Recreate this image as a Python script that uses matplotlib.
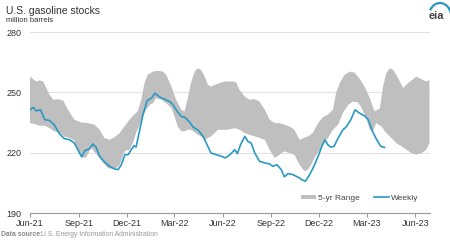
import numpy as np
import pandas as pd
import matplotlib
matplotlib.use("Agg")
import matplotlib.pyplot as plt
from matplotlib.patches import Arc

plt.rcParams['font.family'] = ['Liberation Sans', 'DejaVu Sans']

# weekly gasoline stocks, million barrels
weekly_dates = ["2021-06-01", "2021-06-07", "2021-06-13", "2021-06-21", "2021-06-29", "2021-07-08",
                "2021-07-17", "2021-07-27", "2021-08-05", "2021-08-15", "2021-08-24", "2021-09-03",
                "2021-09-07", "2021-09-13", "2021-09-22", "2021-09-28", "2021-10-04", "2021-10-11",
                "2021-10-20", "2021-10-30", "2021-11-08", "2021-11-15", "2021-11-21", "2021-11-28",
                "2021-12-04", "2021-12-10", "2021-12-15", "2021-12-19", "2021-12-26", "2022-01-01",
                "2022-01-09", "2022-01-17", "2022-01-24", "2022-02-02", "2022-02-11", "2022-02-21",
                "2022-02-27", "2022-03-07", "2022-03-15", "2022-03-22", "2022-03-31", "2022-04-06",
                "2022-04-16", "2022-04-25", "2022-05-01", "2022-05-10", "2022-05-20", "2022-05-30",
                "2022-06-06", "2022-06-11", "2022-06-18", "2022-06-24", "2022-06-29", "2022-07-05",
                "2022-07-13", "2022-07-19", "2022-07-25", "2022-08-01", "2022-08-10", "2022-08-20",
                "2022-08-29", "2022-09-04", "2022-09-12", "2022-09-20", "2022-09-26", "2022-10-03",
                "2022-10-12", "2022-10-22", "2022-10-31", "2022-11-05", "2022-11-13", "2022-11-21",
                "2022-11-29", "2022-12-06", "2022-12-12", "2022-12-17", "2022-12-23", "2022-12-29",
                "2023-01-06", "2023-01-15", "2023-01-21", "2023-01-30", "2023-02-07", "2023-02-15",
                "2023-02-25", "2023-03-04", "2023-03-12", "2023-03-20", "2023-03-28", "2023-04-04"]
weekly_vals = [241.3, 242.5, 240.8, 241.3, 236.4, 236.0,
               233.9, 229.3, 227.0, 226.4, 224.8, 219.8,
               217.9, 221.0, 222.0, 224.3, 222.8, 218.2,
               215.4, 213.2, 211.9, 211.6, 214.0, 219.0,
               219.0, 221.5, 223.5, 222.8, 231.4, 238.8,
               245.9, 247.1, 249.6, 247.6, 246.6, 245.4,
               243.8, 240.5, 238.0, 237.5, 235.0, 232.7,
               231.1, 228.1, 224.8, 219.8, 219.0, 218.2,
               217.4, 218.2, 219.8, 221.5, 219.5, 224.0,
               228.1, 225.6, 224.8, 219.8, 215.7, 214.9,
               214.4, 213.2, 214.0, 211.6, 208.0, 209.6,
               209.1, 207.8, 206.3, 205.8, 209.1, 213.2,
               218.2, 223.1, 226.4, 224.0, 222.8, 223.1,
               227.3, 231.4, 232.7, 236.4, 241.3, 239.7,
               238.3, 236.4, 230.6, 226.4, 223.1, 222.6]

# 5-year range, upper edge
upper_dates = ["2021-06-01", "2021-06-07", "2021-06-13", "2021-06-19", "2021-06-26", "2021-07-02",
               "2021-07-08", "2021-07-15", "2021-07-24", "2021-08-03", "2021-08-12", "2021-08-24",
               "2021-09-06", "2021-09-19", "2021-10-01", "2021-10-11", "2021-10-20", "2021-10-30",
               "2021-11-08", "2021-11-18", "2021-11-27", "2021-12-04", "2021-12-13", "2021-12-22",
               "2021-12-29", "2022-01-04", "2022-01-10", "2022-01-20", "2022-01-29", "2022-02-08",
               "2022-02-14", "2022-02-24", "2022-03-05", "2022-03-15", "2022-03-21", "2022-03-27",
               "2022-04-02", "2022-04-09", "2022-04-15", "2022-04-21", "2022-04-28", "2022-05-04",
               "2022-05-10", "2022-05-17", "2022-05-26", "2022-06-05", "2022-06-11", "2022-06-21",
               "2022-06-27", "2022-07-03", "2022-07-13", "2022-07-22", "2022-08-01", "2022-08-10",
               "2022-08-20", "2022-08-29", "2022-09-08", "2022-09-17", "2022-09-26", "2022-10-06",
               "2022-10-15", "2022-10-25", "2022-11-02", "2022-11-10", "2022-11-19", "2022-11-29",
               "2022-12-08", "2022-12-17", "2022-12-27", "2023-01-02", "2023-01-09", "2023-01-18",
               "2023-01-28", "2023-02-06", "2023-02-15", "2023-02-25", "2023-03-07", "2023-03-16",
               "2023-03-26", "2023-04-01", "2023-04-07", "2023-04-14", "2023-04-20", "2023-04-26",
               "2023-05-03", "2023-05-09", "2023-05-15", "2023-05-22", "2023-05-28", "2023-06-03",
               "2023-06-13", "2023-06-22", "2023-06-28"]
upper_vals = [257.8, 256.5, 255.4, 255.9, 255.4, 252.1,
              248.8, 246.3, 246.6, 245.9, 241.3, 236.4,
              235.0, 234.7, 233.9, 231.4, 227.3, 226.4,
              227.6, 229.8, 233.0, 235.5, 238.3, 240.5,
              246.3, 254.6, 258.7, 260.3, 260.7, 260.3,
              258.7, 252.9, 246.3, 241.3, 240.5, 247.1,
              254.6, 260.3, 262.0, 261.2, 257.8, 253.7,
              252.9, 253.7, 254.6, 255.4, 255.4, 255.4,
              254.9, 251.2, 247.9, 246.3, 246.6, 245.4,
              241.3, 236.4, 234.7, 234.7, 233.9, 233.0,
              231.4, 226.4, 227.3, 228.1, 229.8, 234.7,
              237.7, 238.8, 241.3, 249.6, 254.6, 258.7,
              260.3, 259.8, 257.0, 252.9, 247.1, 240.5,
              242.0, 252.9, 259.5, 262.0, 261.2, 258.7,
              255.4, 252.1, 253.7, 255.4, 256.5, 257.8,
              256.5, 255.4, 256.2]

# 5-year range, lower edge
lower_dates = ["2021-06-01", "2021-06-10", "2021-06-19", "2021-06-29", "2021-07-08", "2021-07-17",
               "2021-07-27", "2021-08-05", "2021-08-15", "2021-08-24", "2021-08-31", "2021-09-06",
               "2021-09-15", "2021-09-25", "2021-10-07", "2021-10-16", "2021-10-26", "2021-11-01",
               "2021-11-11", "2021-11-18", "2021-11-28", "2021-12-07", "2021-12-14", "2021-12-19",
               "2021-12-26", "2022-01-01", "2022-01-07", "2022-01-14", "2022-01-20", "2022-01-26",
               "2022-02-05", "2022-02-14", "2022-02-24", "2022-03-02", "2022-03-08", "2022-03-15",
               "2022-03-21", "2022-03-27", "2022-04-02", "2022-04-09", "2022-04-15", "2022-04-21",
               "2022-04-28", "2022-05-04", "2022-05-10", "2022-05-17", "2022-05-23", "2022-06-02",
               "2022-06-11", "2022-06-24", "2022-07-03", "2022-07-13", "2022-07-22", "2022-08-01",
               "2022-08-10", "2022-08-20", "2022-08-29", "2022-09-08", "2022-09-17", "2022-09-26",
               "2022-10-06", "2022-10-15", "2022-10-25", "2022-11-03", "2022-11-10", "2022-11-16",
               "2022-11-22", "2022-12-02", "2022-12-11", "2022-12-17", "2022-12-27", "2023-01-06",
               "2023-01-15", "2023-01-25", "2023-02-03", "2023-02-12", "2023-02-18", "2023-02-28",
               "2023-03-07", "2023-03-13", "2023-03-19", "2023-03-29", "2023-04-07", "2023-04-17",
               "2023-04-26", "2023-05-06", "2023-05-15", "2023-05-25", "2023-06-03", "2023-06-13",
               "2023-06-22", "2023-06-28"]
lower_vals = [234.7, 234.2, 233.4, 233.4, 232.2, 230.6,
              229.8, 228.1, 227.3, 226.0, 220.7, 217.9,
              217.4, 222.5, 218.5, 215.5, 212.5, 212.0,
              212.3, 214.0, 221.0, 221.5, 225.5, 229.8,
              233.9, 238.0, 241.3, 243.8, 244.6, 247.1,
              246.3, 244.6, 242.2, 238.0, 233.0, 230.6,
              230.6, 231.4, 231.4, 230.1, 228.9, 228.1,
              226.4, 227.3, 228.1, 229.8, 231.4, 231.4,
              231.4, 232.2, 231.4, 229.8, 228.9, 228.1,
              227.3, 226.4, 221.5, 217.4, 219.0, 220.7,
              219.8, 219.0, 214.0, 210.8, 211.6, 214.0,
              217.4, 221.5, 225.6, 227.0, 231.4, 233.9,
              239.7, 243.8, 245.4, 245.0, 243.0, 237.2,
              231.4, 230.6, 234.7, 233.0, 229.8, 227.3,
              224.8, 223.1, 221.5, 219.8, 219.0, 219.8,
              221.5, 224.8]

tick_dates = ["2021-06-01", "2021-09-01", "2021-12-01", "2022-03-01", "2022-06-01",
              "2022-09-01", "2022-12-01", "2023-03-01", "2023-06-01"]
tick_labels = ["Jun-21", "Sep-21", "Dec-21", "Mar-22", "Jun-22",
               "Sep-22", "Dec-22", "Mar-23", "Jun-23"]
y_ticks = [190, 220, 250, 280]

wd = pd.to_datetime(weekly_dates)
ud = pd.to_datetime(upper_dates)
ld = pd.to_datetime(lower_dates)

fig = plt.figure(figsize=(4.5, 2.4), dpi=100)
ax = fig.add_axes([30 / 450, 1 - 213 / 240, 400 / 450, 181 / 240])

band_x = np.concatenate([ud.values, ld.values[::-1]])
band_y = np.concatenate([upper_vals, lower_vals[::-1]])
ax.fill(band_x, band_y, color='#bfbfbf', lw=0, zorder=2, label='5-yr Range')
ax.plot(wd, weekly_vals, color='#2a98c4', lw=1.2, zorder=3, label='Weekly')

ax.set_ylim(190, 280)
ax.set_xlim(pd.Timestamp("2021-06-01"), pd.Timestamp("2023-06-29"))
ax.set_yticks(y_ticks)
ax.set_xticks(pd.to_datetime(tick_dates))
ax.set_xticklabels(tick_labels)
ax.grid(axis='y', color='#e2e2e2', lw=0.8, zorder=0)
for s in ['top', 'right', 'left']:
    ax.spines[s].set_visible(False)
ax.spines['bottom'].set_color('#9a9a9a')
ax.spines['bottom'].set_linewidth(0.8)
ax.tick_params(axis='y', length=0, labelsize=6.5, labelcolor='#333333', pad=6)
ax.tick_params(axis='x', length=3, color='#9a9a9a', labelsize=6.5, labelcolor='#333333', pad=1)

ax.legend(loc='lower right', bbox_to_anchor=(0.99, 0.02), ncol=2, frameon=False,
          fontsize=6, handlelength=1.8, handleheight=0.5, columnspacing=1.8,
          handletextpad=0.2, labelcolor='#444444')

fig.text(6 / 450, 1 - 11 / 240, "U.S. gasoline stocks", fontsize=7.5, color='#333333', va='center')
fig.text(6 / 450, 1 - 20 / 240, "million barrels", fontsize=5.5, color='#333333', va='center')
fig.text(1 / 450, 1 - 234 / 240, "Data source:", fontsize=4.9, color='#888888',
         fontweight='bold', va='center')
fig.text(41 / 450, 1 - 234 / 240, "U.S. Energy Information Administration", fontsize=4.9,
         color='#999999', va='center')

# eia logo
fig.text(436 / 450, 1 - 16 / 240, "eia", fontsize=8, color='#444444', ha='center',
         va='center', fontweight='bold')
lax = fig.add_axes([424 / 450, 1 - 22 / 240, 26 / 450, 22 / 240])
lax.set_xlim(0, 26)
lax.set_ylim(0, 22)
lax.axis('off')
lax.add_patch(Arc((16, 6), 22, 26, theta1=15, theta2=150, color='#2a98c4', lw=1.6))

fig.savefig("out.png", dpi=100)
